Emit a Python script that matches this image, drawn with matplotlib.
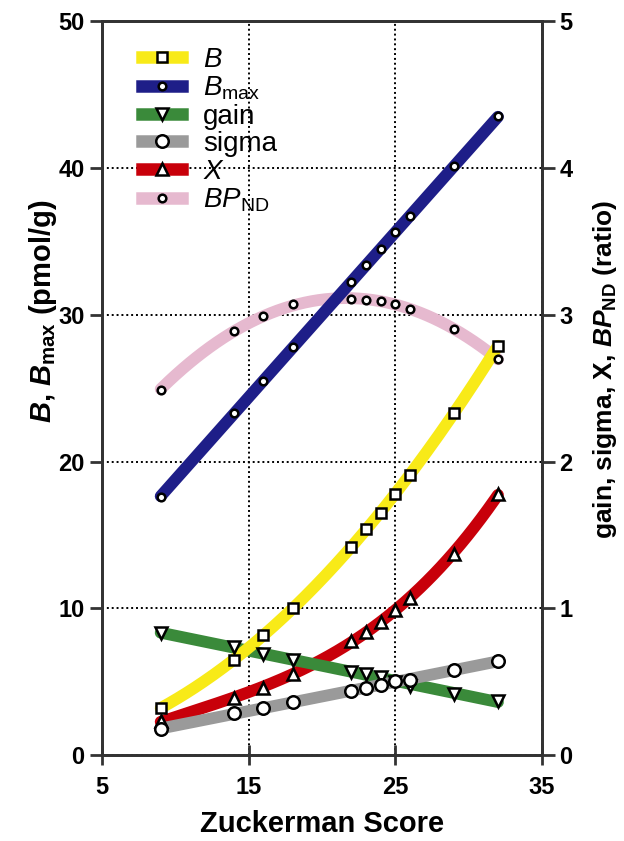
import numpy as np
import matplotlib
matplotlib.use('Agg')
import matplotlib.pyplot as plt
from matplotlib.lines import Line2D

plt.rcParams['font.family'] = 'Liberation Sans'
plt.rcParams['mathtext.fontset'] = 'custom'
plt.rcParams['mathtext.rm'] = 'Liberation Sans'
plt.rcParams['mathtext.it'] = 'Liberation Sans:italic'
plt.rcParams['mathtext.bf'] = 'Liberation Sans:bold'
plt.rcParams['mathtext.bfit'] = 'Liberation Sans:italic:bold'

# data
score = [9, 14, 16, 18, 22, 23, 24, 25, 26, 29, 32]
B = [3.2, 6.5, 8.2, 10.0, 14.2, 15.4, 16.5, 17.8, 19.1, 23.3, 27.9]
Bmax = [17.6, 23.3, 25.5, 27.8, 32.2, 33.4, 34.5, 35.6, 36.7, 40.1, 43.5]
gain = [0.83, 0.74, 0.69, 0.65, 0.57, 0.555, 0.535, 0.50, 0.47, 0.42, 0.37]
sigma = [0.18, 0.285, 0.32, 0.36, 0.44, 0.455, 0.48, 0.505, 0.515, 0.58, 0.64]
X = [0.23, 0.39, 0.46, 0.555, 0.78, 0.84, 0.91, 0.99, 1.07, 1.37, 1.78]
BPnd = [2.49, 2.89, 2.99, 3.07, 3.11, 3.10, 3.09, 3.07, 3.04, 2.90, 2.70]

xticks = [5, 15, 25, 35]
left_ticks = [0, 10, 20, 30, 40, 50]
right_ticks = [0, 1, 2, 3, 4, 5]

fig = plt.figure(figsize=(6.24, 8.41), dpi=100)
ax = fig.add_axes([0.1635, 0.102, 0.705, 0.873])
ax2 = ax.twinx()

ax.set_xlim(5, 35)
ax.set_ylim(0, 50)
ax2.set_ylim(0, 5)

xs = np.linspace(9, 32, 200)
# (values, degree of trend, colour, marker, ms, axis, zorder of line)
series = [
    (BPnd, 2, '#E6B9CF', 'o', 5.5, ax2, 2),
    (X, 3, '#C8000A', '^', 8, ax2, 3),
    (gain, 2, '#3A8A3A', 'v', 8, ax2, 4),
    (sigma, 2, '#9A9A9A', 'o', 9, ax2, 5),
    (B, 2, '#F8EA18', 's', 7, ax, 6),
    (Bmax, 1, '#1E1E88', 'o', 5.5, ax, 7),
]
for vals, deg, col, mk, ms, a, z in series:
    p = np.polyfit(score, vals, deg)
    tr = a.transData
    ax.plot(xs, np.polyval(p, xs), color=col, lw=8.5, solid_capstyle='round',
            transform=tr, zorder=z)
    ax.plot(score, vals, ls='none', marker=mk, ms=ms, mfc='white', mec='black',
            mew=1.8, transform=tr, zorder=10)

ax.grid(True, color='black', ls=(0, (1, 1.5)), lw=1.4)
ax.set_axisbelow(True)
ax.set_xticks(xticks)
ax.set_yticks(left_ticks)
ax2.set_yticks(right_ticks)

for a in (ax, ax2):
    for s in a.spines.values():
        s.set_linewidth(2)
        s.set_color('#333333')
    a.tick_params(labelsize=17, width=2, length=9, color='#333333')
    for lab in a.get_xticklabels() + a.get_yticklabels():
        lab.set_fontweight('bold')
ax.tick_params(axis='x', direction='inout', length=14, pad=8)

ax.set_xlabel('Zuckerman Score', fontsize=21, fontweight='bold', labelpad=8)
ax.set_ylabel(r'$\mathbfit{B}$, $\mathbfit{B}_{\mathbf{max}}$ (pmol/g)',
              fontsize=21, fontweight='bold')
ax.yaxis.set_label_coords(-0.098, 0.605)
ax2.set_ylabel(r'gain, sigma, X, $\mathbfit{BP}_{\mathbf{ND}}$ (ratio)',
               fontsize=19, fontweight='bold')
ax2.yaxis.set_label_coords(1.112, 0.525)

handles = []
for vals, deg, col, mk, ms, a, z in [series[4], series[5], series[2],
                                      series[3], series[1], series[0]]:
    handles.append(Line2D([], [], color=col, lw=9, marker=mk, ms=ms, mfc='white',
                          mec='black', mew=1.8))
labels = ['$B$', r'$B_{\mathrm{max}}$', 'gain', 'sigma', '$X$', r'$BP_{\mathrm{ND}}$']
leg = ax.legend(handles, labels, loc='upper left', bbox_to_anchor=(0.09, 0.965),
                frameon=False, fontsize=20, handlelength=1.45, handletextpad=0.75,
                labelspacing=0.06, borderaxespad=0, borderpad=0)
leg.set_zorder(20)

fig.savefig('out.png', dpi=100)
